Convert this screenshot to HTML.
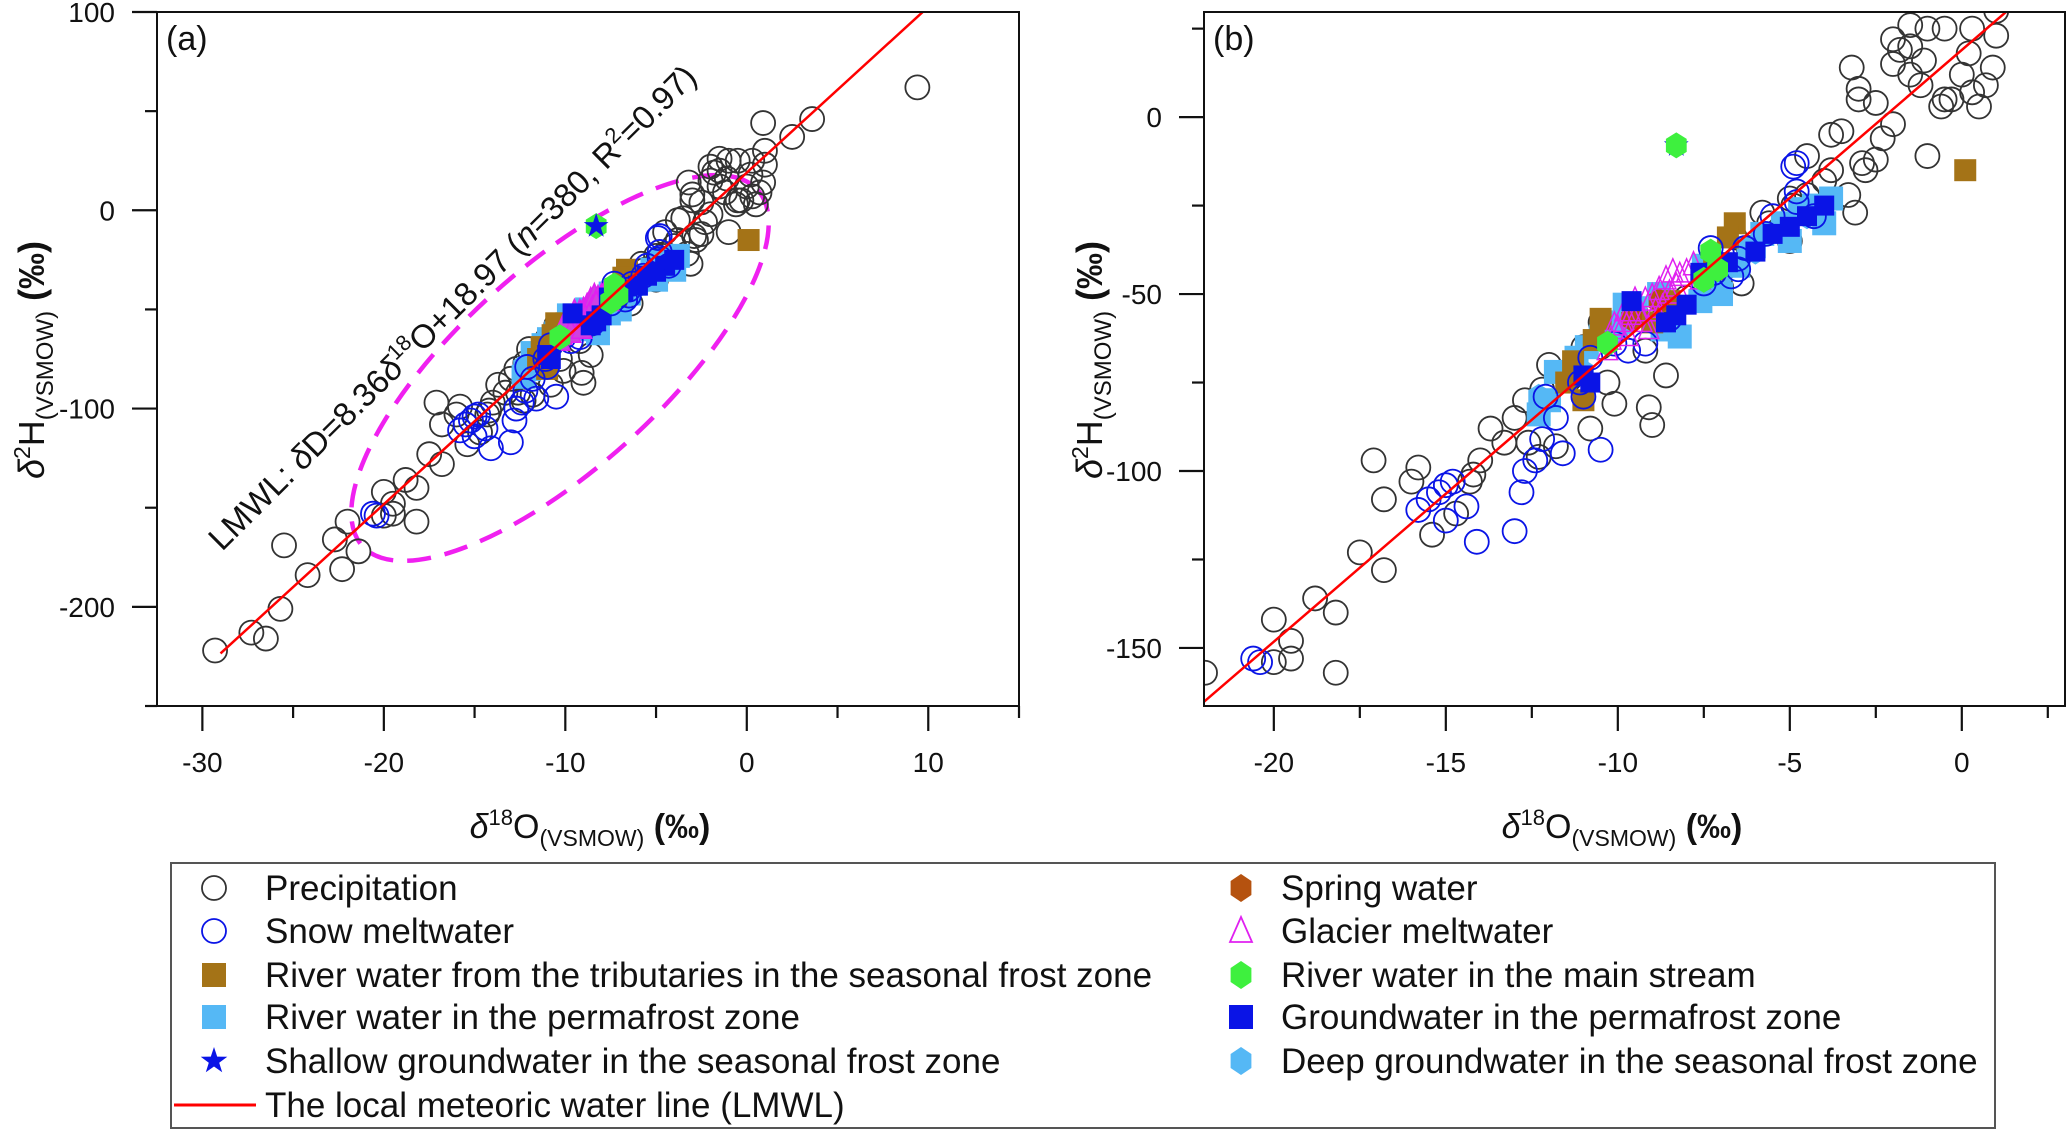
<!DOCTYPE html>
<html><head><meta charset="utf-8"><style>
html,body{margin:0;padding:0;background:#fff;}
svg{display:block;font-family:"Liberation Sans",Arial,sans-serif;}
</style></head><body>
<svg id="chart" width="2067" height="1130" viewBox="0 0 2067 1130" xmlns="http://www.w3.org/2000/svg"></svg>
<script>
// ---- data ----
const precipX=[-29.3,-27.3,-26.5,-25.7,-25.5,-24.2,-22.7,-22.3,-21.4,9.4,3.6,0.9,2.5,1,-1,-2,-1.5,0,-0.5,-3,-2,-2.5,-22,-20,-20,-19.5,-19.5,-18.2,-18.2,-18.8,-17.5,-16.8,-17.1,-16.8,-15.8,-16,-15.4,-14.3,-14.2,-14.7,-13.3,-13.7,-12.7,-12.2,-12.6,-12.3,-11.8,-11.4,-10.8,-10.1,-10.3,-9.1,-9,-8.6,-8.8,-9.2,-10.2,-10.5,-8,-7.5,-6.8,-6.4,-7,-6.6,-5.6,-5.8,-5,-4.9,-4.5,-4,-3.8,-3.3,-3.1,-2.8,-2.9,-4.5,-3.8,-3.5,-2.3,-2.5,-3,-3.2,-2,-1.5,-1.2,-0.6,-1,-0.3,0.3,0.5,-1.5,-0.5,0.3,1,0.9,0.7,0.2,-1.1,-1.8,-6.2,-5,-9.5,-10.5,-11,-12,-13,-14];
const precipY=[-222,-213,-216,-201,-169,-184,-166,-181,-172,62,46,44,37,30,25,22,20,12,5,5,-2,-12,-157,-142,-154,-148,-153,-140,-157,-136,-123,-128,-97,-108,-99,-103,-118,-103,-101,-112,-92,-88,-80,-77,-92,-96,-93,-74,-88,-81,-75,-82,-87,-73,-58,-66,-62,-65,-51,-44,-42,-47,-48,-34,-30,-27,-23,-25,-22,-18,-15,-22,-27,-15,-13,-11,-5,-4,-6,4,8,14,15,12,9,3,-11,5,7,3,26,25,25,23,14,9,18,16,19,-37,-35,-55,-58,-65,-70,-85,-97];
const snowX=[-20.6,-20.4,-15.8,-15.5,-15.2,-15,-14.8,-15,-14.4,-14.1,-13,-12.8,-12.4,-12.7,-12.2,-11.6,-12.1,-11.8,-10.5,-11,-11.1,-10.8,-10.1,-9.7,-9.2,-8.5,-7.5,-7.2,-6.7,-6.5,-7.3,-6.3,-5.7,-5.5,-4.8,-4.8,-4.9,-4.8,-4.3,-6.5];
const snowY=[-153,-154,-111,-108,-106,-104,-103,-114,-110,-120,-117,-106,-97,-100,-91,-95,-79,-85,-94,-79,-75,-68,-64,-66,-64,-57,-47,-44,-45,-43,-37,-37,-33,-28,-24,-21,-14,-13,-28,-40];
const permRiverX=[-12.3,-12,-11.8,-11.2,-10.9,-10.5,-10.2,-9.9,-9.5,-9.8,-8.7,-8.2,-7.6,-7.5,-6.5,-6.2,-5.8,-5.2,-4.7,-4.3,-3.8,-4,-5,-7,-8.8];
const permRiverY=[-84,-80,-72,-68,-65,-62,-60,-58,-54,-53,-60,-62,-52,-42,-42,-37,-33,-30,-26,-25,-23,-30,-35,-50,-50];
const deepGwX=[-12.3,-11,-10,-7,-4.5,-6];
const deepGwY=[-79,-72,-60,-45,-28,-38];
const tribX=[0.1,-6.6,-6.8,-10.5,-10.7,-11.3,-11,-11.5,-8.5,-9,-7.2];
const tribY=[-15,-30,-34,-57,-63,-69,-80,-75,-52,-58,-43];
const permGwX=[-6.8,-8.3,-8.6,-9.6,-7.6,-5,-4.5,-6,-11,-10.8,-8,-5.5,-4];
const permGwY=[-41,-56,-58,-52,-44,-31,-28,-38,-73,-75,-53,-33,-25];
const glacierX=[-10.2,-10,-9.8,-9.6,-9.4,-9.2,-9,-8.8,-8.6,-8.4,-8.2,-8,-7.8,-9.5,-9.8,-10.1,-9.3,-8.9,-8.5,-8.3,-7.6,-9.7,-9.1,-8.7,-10.3];
const glacierY=[-63,-60,-58,-56,-55,-52,-51,-49,-46,-44,-45,-44,-42,-52,-55,-59,-58,-55,-50,-48,-46,-62,-60,-54,-66];
const mainX=[-8.3,-7.3,-7.1,-10.3,-7.5];
const mainY=[-8,-38,-43,-64,-46];
const springX=[-9.6,-8.8];
const springY=[-57,-52];
const starX=[-8.3];
const starY=[-8];
const lmwlSlope=8.36, lmwlIntercept=18.97;
const xTicksA=[-30,-20,-10,0,10], yTicksA=[100,0,-100,-200];
const xTicksB=[-20,-15,-10,-5,0], yTicksB=[0,-50,-100,-150];

const NS="http://www.w3.org/2000/svg";
const svg=document.getElementById('chart');
function el(tag,attrs,parent){const e=document.createElementNS(NS,tag);for(const k in attrs)e.setAttribute(k,attrs[k]);(parent||svg).appendChild(e);return e;}

function panel(cfg){
  const g=el('g',{});
  
  
  const sx=v=>cfg.L+(v-cfg.x0)/(cfg.x1-cfg.x0)*(cfg.R-cfg.L);
  const sy=v=>cfg.B-(v-cfg.y0)/(cfg.y1-cfg.y0)*(cfg.B-cfg.T);
  const clipId='clip'+cfg.id;
  const cp=el('clipPath',{id:clipId},g);
  el('rect',{x:cfg.L,y:cfg.T,width:cfg.R-cfg.L,height:cfg.B-cfg.T},cp);
  const pg=el('g',{'clip-path':'url(#'+clipId+')'},g);
  
  
  const r=12;
  function circles(xs,ys,stroke,name){
    xs.forEach((x,i)=>{const c=el('circle',{cx:sx(x),cy:sy(ys[i]),r:r,fill:'none',stroke:stroke,'stroke-width':1.8},pg);
    
    });
  }
  function squares(xs,ys,fill,name,s){
    xs.forEach((x,i)=>{const q=el('rect',{x:sx(x)-s,y:sy(ys[i])-s,width:2*s,height:2*s,fill:fill},pg);
    
    });
  }
  function hexes(xs,ys,fill,name){
    xs.forEach((x,i)=>{const cx=sx(x),cy=sy(ys[i]);const pts=[];for(let k=0;k<6;k++){const a=Math.PI/6+k*Math.PI/3;pts.push((cx+12*Math.cos(a)).toFixed(1)+','+(cy+13*Math.sin(a)).toFixed(1));}
    const h=el('polygon',{points:pts.join(' '),fill:fill},pg);
    
    });
  }
  function tris(xs,ys,name){
    xs.forEach((x,i)=>{const cx=sx(x),cy=sy(ys[i]);const t=el('polygon',{points:`${cx},${cy-14} ${cx-10},${cy+9} ${cx+10},${cy+9}`,fill:cfg.id==='a'?'#d040e0':'none',stroke:'#e020f0','stroke-width':1.5},pg);
    
    });
  }
  function stars(xs,ys,name){
    xs.forEach((x,i)=>{const cx=sx(x),cy=sy(ys[i]);const pts=[];for(let k=0;k<10;k++){const a=-Math.PI/2+k*Math.PI/5;const rr=k%2?5:13;pts.push((cx+rr*Math.cos(a)).toFixed(1)+','+(cy+rr*Math.sin(a)).toFixed(1));}
    const s=el('polygon',{points:pts.join(' '),fill:'#0a14e6'},pg);
    
    });
  }
  if(cfg.id==='a'){
    const e=el('ellipse',{cx:560,cy:368,rx:266,ry:100,transform:'rotate(-42 560 368)',fill:'none',stroke:'#f020f0','stroke-width':4.5,'stroke-dasharray':'24 14'},pg);
    
    
  }
  circles(precipX,precipY,'#333','precipitation-point');
  hexes(deepGwX,deepGwY,'#55b8f5','deep-groundwater-point');
  squares(permRiverX,permRiverY,'#55b8f5','permafrost-river-point',12);
  squares(tribX,tribY,'#a47317','tributary-river-point',11);
  circles(snowX,snowY,'#0a14e6','snow-meltwater-point');
  hexes(springX,springY,'#b5520f','spring-water-point');
  tris(glacierX,glacierY,'glacier-meltwater-point');
  squares(permGwX,permGwY,'#0a14e6','permafrost-groundwater-point',10);
  if(cfg.id==='a'){hexes(mainX,mainY,'#3ef03e','main-stream-point');stars(starX,starY,'shallow-groundwater-point');}
  else{stars(starX,starY,'shallow-groundwater-point');hexes(mainX,mainY,'#3ef03e','main-stream-point');}
  const lx0=cfg.lx0,lx1=cfg.lx1;
  const ln=el('line',{x1:sx(lx0),y1:sy(lmwlSlope*lx0+lmwlIntercept),x2:sx(lx1),y2:sy(lmwlSlope*lx1+lmwlIntercept),stroke:'#ff0000','stroke-width':2.5},pg);
  
  
  const bx=el('rect',{x:cfg.L,y:cfg.T,width:cfg.R-cfg.L,height:cfg.B-cfg.T,fill:'none',stroke:'#111','stroke-width':2},g);
  
  
  for(let v=cfg.xmin;v<=cfg.x1+1e-9;v+=cfg.xminor){
    const major=cfg.xticks.some(t=>Math.abs(t-v)<1e-6);
    el('line',{x1:sx(v),y1:cfg.B,x2:sx(v),y2:cfg.B+(major?25:12),stroke:'#111','stroke-width':2.2},g);
  }
  cfg.xticks.forEach(t=>{const tx=el('text',{x:sx(t),y:cfg.B+66,'font-size':28,'text-anchor':'middle',fill:'#111'},g);tx.textContent=t;
    
    });
  for(let v=cfg.ymin;v<=cfg.y1+1e-9;v+=cfg.yminor){
    const major=cfg.yticks.some(t=>Math.abs(t-v)<1e-6);
    el('line',{x1:cfg.L,y1:sy(v),x2:cfg.L-(major?25:12),y2:sy(v),stroke:'#111','stroke-width':2.2},g);
  }
  cfg.yticks.forEach(t=>{const tx=el('text',{x:cfg.L-42,y:sy(t)+10,'font-size':28,'text-anchor':'end',fill:'#111'},g);tx.textContent=t;
    
    });
  const pl=el('text',{x:cfg.L+9,y:cfg.T+38,'font-size':34,fill:'#111'},g);pl.textContent='('+cfg.id+')';
  
  
  const xt=el('text',{x:cfg.xtx,y:838,'font-size':34,'text-anchor':'middle',fill:'#111'},g);
  xt.innerHTML='<tspan font-style="italic">δ</tspan><tspan font-size="22" dy="-13">18</tspan><tspan dy="13">O</tspan><tspan font-size="23" dy="8">(VSMOW)</tspan><tspan dy="-8" font-weight="bold"> (‰)</tspan>';
  
  
  const yt=el('text',{x:0,y:0,'font-size':36,'text-anchor':'middle',fill:'#111',transform:`translate(${cfg.ytx},360) rotate(-90)`},g);
  yt.innerHTML='<tspan font-style="italic">δ</tspan><tspan font-size="23" dy="-14">2</tspan><tspan dy="14">H</tspan><tspan font-size="24" dy="9">(VSMOW)</tspan><tspan dy="-9" font-weight="bold"> (‰)</tspan>';
  
  
}

panel({id:'a',name:'panel-a',L:157,R:1019,T:12,B:706,x0:-32.5,x1:15,y0:-250,y1:100,xticks:xTicksA,yticks:yTicksA,xmin:-30,xminor:5,ymin:-250,yminor:50,lx0:-29,lx1:12,xtx:590,ytx:44});
panel({id:'b',name:'panel-b',L:1204,R:2065,T:12,B:706,x0:-22.03,x1:3.0,y0:-166.4,y1:29.7,xticks:xTicksB,yticks:yTicksB,xmin:-20,xminor:2.5,ymin:-150,yminor:25,lx0:-23,lx1:4,xtx:1622,ytx:1102});

const ann=el('text',{x:0,y:0,'font-size':33,fill:'#111',transform:'translate(222,552) rotate(-44.8)'});
ann.innerHTML='LMWL: <tspan font-style="italic">δ</tspan>D=8.36<tspan font-style="italic">δ</tspan><tspan font-size="22" dy="-13">18</tspan><tspan dy="13">O+18.97 (</tspan><tspan font-style="italic">n</tspan>=380, R<tspan font-size="22" dy="-13">2</tspan><tspan dy="13">=0.97)</tspan>';



const lg=el('g',{});


el('rect',{x:171,y:863,width:1824,height:265,fill:'#fff',stroke:'#555','stroke-width':2},lg);
const rows=[888,931,975,1017,1061,1105];
const leftLabels=['Precipitation','Snow meltwater','River water from the tributaries in the seasonal frost zone','River water in the permafrost zone','Shallow groundwater in the seasonal frost zone','The local meteoric water line (LMWL)'];
const rightLabels=['Spring water','Glacier meltwater','River water in the main stream','Groundwater in the permafrost zone','Deep groundwater in the seasonal frost zone'];
function hexPts(cx,cy){const p=[];for(let k=0;k<6;k++){const a=Math.PI/6+k*Math.PI/3;p.push((cx+12*Math.cos(a)).toFixed(1)+','+(cy+14*Math.sin(a)).toFixed(1));}return p.join(' ');}
function starPts(cx,cy){const p=[];for(let k=0;k<10;k++){const a=-Math.PI/2+k*Math.PI/5;const rr=k%2?5.5:14;p.push((cx+rr*Math.cos(a)).toFixed(1)+','+(cy+rr*Math.sin(a)).toFixed(1));}return p.join(' ');}
const mx=214, mx2=1241;
const sym=[
 ()=>el('circle',{cx:mx,cy:rows[0],r:12,fill:'none',stroke:'#333','stroke-width':1.8},lg),
 ()=>el('circle',{cx:mx,cy:rows[1],r:12,fill:'none',stroke:'#0a14e6','stroke-width':1.8},lg),
 ()=>el('rect',{x:mx-12,y:rows[2]-12,width:24,height:24,fill:'#a47317'},lg),
 ()=>el('rect',{x:mx-12,y:rows[3]-12,width:24,height:24,fill:'#55b8f5'},lg),
 ()=>el('polygon',{points:starPts(mx,rows[4]),fill:'#0a14e6'},lg),
 ()=>el('line',{x1:174,y1:rows[5],x2:256,y2:rows[5],stroke:'#ff0000','stroke-width':3},lg),
 ()=>el('polygon',{points:hexPts(mx2,rows[0]),fill:'#b5520f'},lg),
 ()=>el('polygon',{points:`${mx2},${rows[1]-14} ${mx2-11},${rows[1]+11} ${mx2+11},${rows[1]+11}`,fill:'none',stroke:'#e020f0','stroke-width':1.8},lg),
 ()=>el('polygon',{points:hexPts(mx2,rows[2]),fill:'#3ef03e'},lg),
 ()=>el('rect',{x:mx2-12,y:rows[3]-12,width:24,height:24,fill:'#0a14e6'},lg),
 ()=>el('polygon',{points:hexPts(mx2,rows[4]),fill:'#55b8f5'},lg)
];
sym.forEach(f=>{const s=f();
 
 });
leftLabels.forEach((t,i)=>{const tx=el('text',{x:265,y:rows[i]+12,'font-size':35,fill:'#111'},lg);tx.textContent=t;
 
 });
rightLabels.forEach((t,i)=>{const tx=el('text',{x:1281,y:rows[i]+12,'font-size':35,fill:'#111'},lg);tx.textContent=t;
 
 });
</script>
</body></html>
